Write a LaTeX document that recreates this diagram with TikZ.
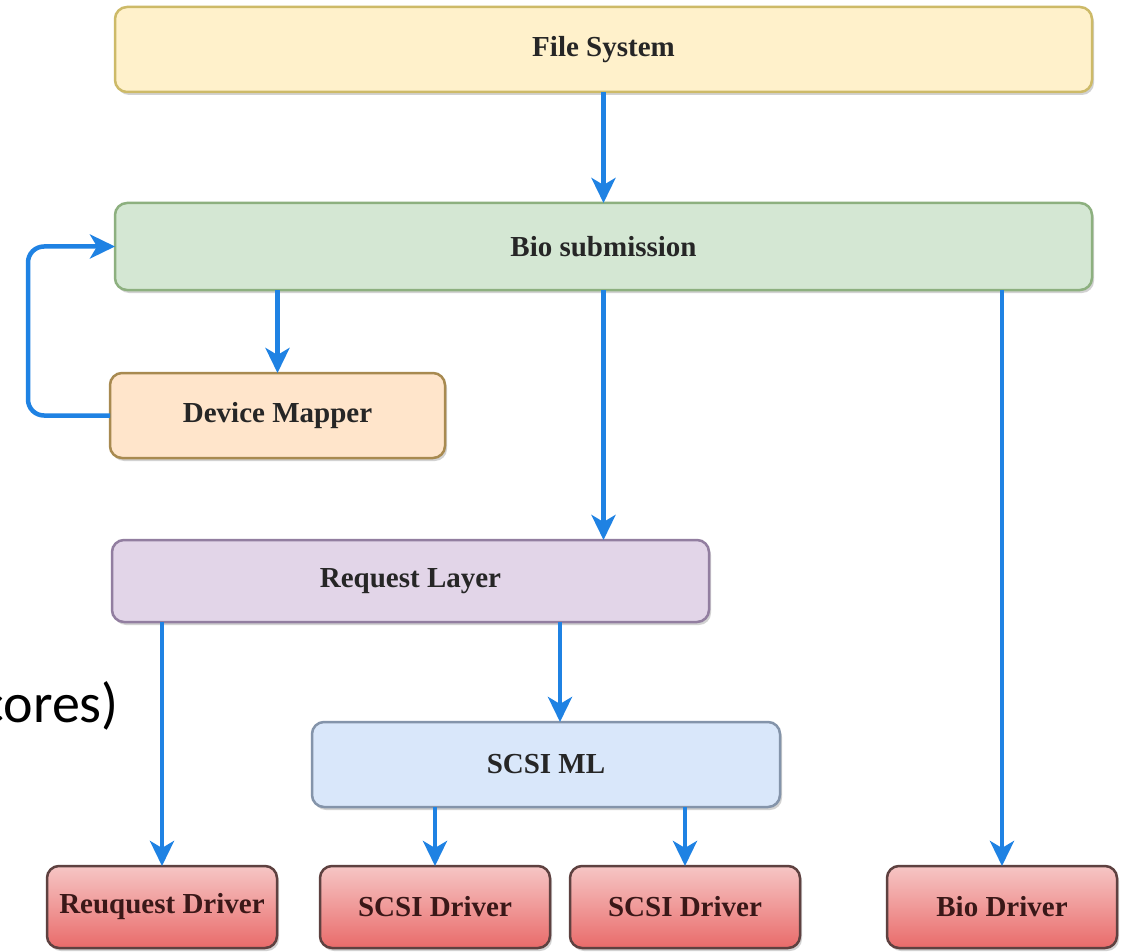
\documentclass[tikz,border=0pt]{standalone}
\usepackage{fontspec}
\setmainfont{Liberation Serif}
\newfontfamily\slidefont{Carlito}
\usetikzlibrary{arrows.meta,shadows}

\definecolor{arrowblue}{HTML}{1F82E3}
\definecolor{fsfill}{HTML}{FFF1CB}
\definecolor{fsline}{HTML}{CDBA68}
\definecolor{biofill}{HTML}{D4E7D3}
\definecolor{bioline}{HTML}{8DB07F}
\definecolor{dmfill}{HTML}{FFE5CB}
\definecolor{dmline}{HTML}{A88A50}
\definecolor{rlfill}{HTML}{E2D5E8}
\definecolor{rlline}{HTML}{927EA0}
\definecolor{mlfill}{HTML}{D9E7FA}
\definecolor{mlline}{HTML}{8494AA}
\definecolor{drvtop}{HTML}{F6C6C5}
\definecolor{drvbot}{HTML}{E96B6A}
\definecolor{drvline}{HTML}{5E4140}
\definecolor{drvtext}{HTML}{3A1818}

\tikzset{
  layerbox/.style={draw, rounded corners=12pt, line width=2.5pt,
    inner sep=0pt, outer sep=0pt, anchor=north west,
    font=\fontsize{29}{34}\selectfont\bfseries, text=black!85,
    drop shadow={shadow xshift=2pt, shadow yshift=-3pt, opacity=0.35}},
  driverbox/.style={layerbox, draw=drvline, top color=drvtop, bottom color=drvbot,
    text=drvtext, minimum width=230pt, minimum height=82pt},
  flow/.style={draw=arrowblue, line width=4.5pt,
    -{Stealth[length=25pt, width=24pt, inset=7pt]}}
}

\begin{document}
\begin{tikzpicture}[x=1pt, y=-1pt]
  \useasboundingbox[fill=white] (0,0) rectangle (1122,952);

  % layers
  \node[layerbox, draw=fsline, fill=fsfill, minimum width=977pt, minimum height=85pt]
    (fs) at (115,7) {File System};
  \node[layerbox, draw=bioline, fill=biofill, minimum width=977pt, minimum height=87pt]
    (bio) at (115,203) {Bio submission};
  \node[layerbox, draw=dmline, fill=dmfill, minimum width=335pt, minimum height=85pt]
    (dm) at (110,373) {Device Mapper};
  \node[layerbox, draw=rlline, fill=rlfill, minimum width=597pt, minimum height=82pt]
    (rl) at (112,540) {Request Layer};
  \node[layerbox, draw=mlline, fill=mlfill, minimum width=468pt, minimum height=85pt]
    (ml) at (312,722) {SCSI ML};

  % drivers
  \node[driverbox] (rd)  at (47,866)  {Reuquest Driver};
  \node[driverbox] (sd1) at (320,866) {SCSI Driver};
  \node[driverbox] (sd2) at (570,866) {SCSI Driver};
  \node[driverbox] (bd)  at (887,866) {Bio Driver};

  % side text, running off the left edge
  \node[anchor=base east, inner sep=0pt, font=\slidefont\fontsize{56}{60}\selectfont]
    (side) at (119,722) {cores)};

  % connectors
  \draw[flow] (fs.south) -- (bio.north);
  \draw[flow] (dm.north |- bio.south) -- (dm.north);
  \draw[flow, rounded corners=16pt] (dm.west) -- ++(-82,0) |- (bio.west);
  \draw[flow] (bio.south) -- (bio.south |- rl.north);
  \draw[flow] (bd.north |- bio.south) -- (bd.north);
  \draw[flow] (rd.north |- rl.south) -- (rd.north);
  \draw[flow] ([xshift=14pt]ml.north |- rl.south) -- ([xshift=14pt]ml.north);
  \draw[flow] (sd1.north |- ml.south) -- (sd1.north);
  \draw[flow] (sd2.north |- ml.south) -- (sd2.north);
\end{tikzpicture}
\end{document}
